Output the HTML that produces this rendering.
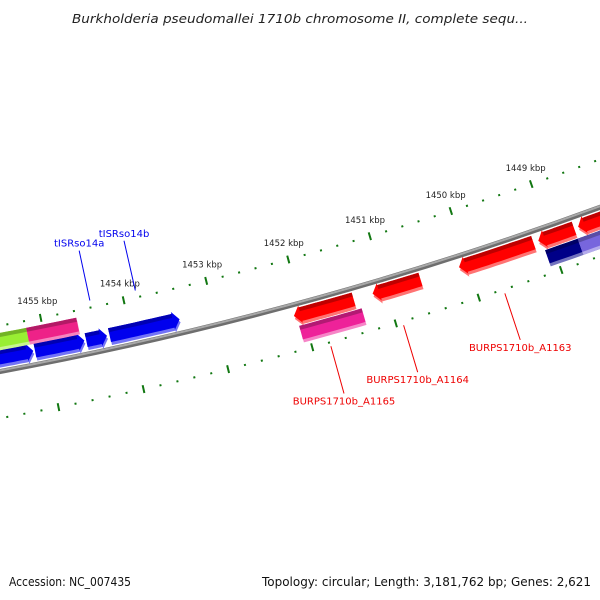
<!DOCTYPE html>
<html><head><meta charset="utf-8"><style>
body{margin:0;background:#fff}
svg{display:block;font-family:"DejaVu Sans","Liberation Sans",sans-serif}
</style></head><body>
<svg id="map" width="600" height="600" viewBox="0 0 600 600">
<text x="72" y="23" textLength="456" lengthAdjust="spacingAndGlyphs" font-size="12" font-style="italic" fill="#222">Burkholderia pseudomallei 1710b chromosome II, complete sequ...</text>
<g id="ticks"></g>
<g id="backbone"></g>
<g id="feats"></g>
<g id="labels"></g>
<text x="9" y="586" textLength="122" lengthAdjust="spacingAndGlyphs" font-size="12" fill="#111">Accession: NC_007435</text>
<text x="262" y="586" textLength="329" lengthAdjust="spacingAndGlyphs" font-size="12" fill="#111">Topology: circular; Length: 3,181,762 bp; Genes: 2,621</text>
</svg>
<script>
const kbpTicks = [1449, 1450, 1451, 1452, 1453, 1454, 1455];
const featStart = [1455.62, 1455.14, 1454.53, 1454.25, 1456.0, 1455.19, 1452.11, 1451.16, 1450.11, 1449.14, 1448.65, 1452.08, 1449.10, 1448.70];
const featEnd   = [1455.16, 1454.55, 1454.28, 1453.41, 1455.19, 1454.59, 1451.39, 1450.58, 1449.20, 1448.70, 1447.90, 1451.33, 1448.20, 1448.00];
const featTrack = [-1, -1, -1, -1, -2, -2, 1, 1, 1, 1, 1, 2, 2, 2];
const featDir   = ["R","R","R","R","N","N","L","L","L","L","L","N","N","N"];
const featColor = ["#0000ee","#0000ee","#0000ee","#0000ee","#99ee33","#ee2288","#ff0000","#ff0000","#ff0000","#ff0000","#ff0000","#ee2299","#000088","#7766dd"];
const featName  = ["gene-a","gene-b","tISRso14a","tISRso14b","gene-green","gene-pink","BURPS1710b_A1165-red","BURPS1710b_A1164","BURPS1710b_A1163","gene-red-4","gene-red-5","BURPS1710b_A1165","gene-navy","gene-lavender"];
const labelText = ["tISRso14a","tISRso14b","BURPS1710b_A1165","BURPS1710b_A1164","BURPS1710b_A1163"];
const labelKbp  = [1454.39, 1453.84, 1451.79, 1450.92, 1449.70];
const labelSide = [-1, -1, 1, 1, 1];
const labelColor= ["#0000ee","#0000ee","#ee0000","#ee0000","#ee0000"];

const NS="http://www.w3.org/2000/svg";
const CX=-679, CY=-3287, R0=3721;
const trackR={"-1":R0-14,"-2":R0-31,"1":R0+11,"2":R0+29};
function ang(k){return (78.71+(k-1455)*1.322)*Math.PI/180;}
function P(k,r){const a=ang(k);return [CX+r*Math.cos(a),CY+r*Math.sin(a)];}
function mk(tag,attrs,parent){const e=document.createElementNS(NS,tag);for(const k in attrs)e.setAttribute(k,attrs[k]);parent.appendChild(e);return e;}
function arcPts(k1,k2,r,n){const o=[];for(let i=0;i<=n;i++){o.push(P(k1+(k2-k1)*i/n,r));}return o;}
function pstr(a){return a.map(p=>p[0].toFixed(1)+","+p[1].toFixed(1)).join(" ");}

const bb=document.getElementById('backbone');
let c1=mk('circle',{cx:CX,cy:CY,r:R0,fill:'none',stroke:'#6e6e6e','stroke-width':5},bb);


let c2=mk('circle',{cx:CX,cy:CY,r:R0-1,fill:'none',stroke:'#a8a8a8','stroke-width':2},bb);



const tg=document.getElementById('ticks');
const ringR=[R0-45,R0+46];
for(const rr of ringR){
  for(let k=1447.4;k<=1456.6;k+=0.2){
    const kk=Math.round(k*10)/10;
    const major=Math.abs(kk-Math.round(kk))<0.01;
    const a=P(kk,rr-(major?4:1)), b=P(kk,rr+(major?4:1));
    const t=mk('line',{x1:a[0],y1:a[1],x2:b[0],y2:b[1],stroke:'#117711','stroke-width':2},tg);
    
    
  }
}
for(const k of kbpTicks){
  const p=P(k,ringR[0]-17);
  const t=mk('text',{x:p[0],y:p[1]+3,'text-anchor':'middle','font-size':8.5,fill:'#222'},tg);
  t.textContent=k+" kbp";
  
  
}

const fg=document.getElementById('feats');
function shade(hex,f){const n=parseInt(hex.slice(1),16);let r=n>>16,g=(n>>8)&255,b=n&255;
  const m=v=>Math.max(0,Math.min(255,Math.round(f<1?v*f:v+(255-v)*(f-1))));return `rgb(${m(r)},${m(g)},${m(b)})`;}
for(let i=0;i<featStart.length;i++){
  const k1=featStart[i],k2=featEnd[i],r=trackR[featTrack[i]],h=7,hd=0.08;
  let pts;
  if(featDir[i]==="R"){
    const kh=k2+hd;
    pts=arcPts(k1,kh,r-h,10).concat([P(kh,r-h-2),P(k2,r),P(kh,r+h+2)]).concat(arcPts(kh,k1,r+h,10));
  }else if(featDir[i]==="L"){
    const kh=k1-hd;
    pts=[P(k1,r)].concat([P(kh,r-h-2)]).concat(arcPts(kh,k2,r-h,10)).concat(arcPts(k2,kh,r+h,10)).concat([P(kh,r+h+2)]);
  }else{
    pts=arcPts(k1,k2,r-h,10).concat(arcPts(k2,k1,r+h,10));
  }
  const g=mk('g',{},fg);
  
  
  const lower=pts.map(p=>[p[0]+1,p[1]+3]);
  mk('polygon',{points:pstr(lower),fill:shade(featColor[i],1.45)},g);
  mk('polygon',{points:pstr(pts),fill:featColor[i]},g);
  const ka=k1-(featDir[i]==="L"?hd:0), kb=k2+(featDir[i]==="R"?hd:0);
  const topStrip=arcPts(ka,kb,r-h,10).concat(arcPts(kb,ka,r-h+4,10));
  mk('polygon',{points:pstr(topStrip),fill:shade(featColor[i],0.75)},g);
}

const lg=document.getElementById('labels');
for(let i=0;i<labelText.length;i++){
  const s=labelSide[i];
  const a=P(labelKbp[i],R0+s*(s<0?52:50)), b=P(labelKbp[i],R0+s*(s<0?103:99));
  const l=mk('line',{x1:a[0],y1:a[1],x2:b[0],y2:b[1],stroke:labelColor[i],'stroke-width':1},lg);
  
  
  const t=mk('text',{x:b[0],y:s<0?b[1]-4:b[1]+11,'text-anchor':'middle','font-size':10,fill:labelColor[i]},lg);
  t.textContent=labelText[i];
  
  
}
</script>
</body></html>
